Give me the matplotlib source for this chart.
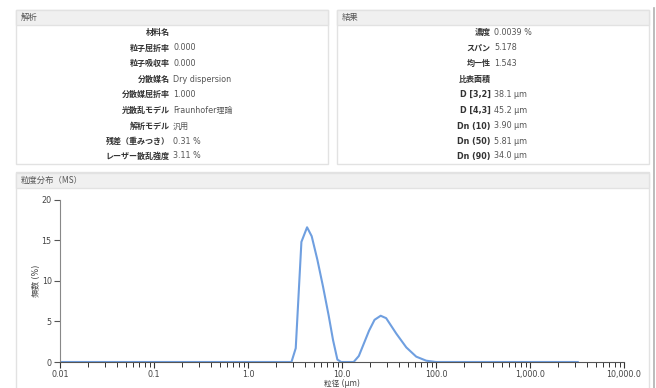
import matplotlib
matplotlib.use("Agg")
import matplotlib.pyplot as plt
from matplotlib.patches import Rectangle
from matplotlib.lines import Line2D
from matplotlib.ticker import FixedLocator, FixedFormatter, LogLocator, NullFormatter

plt.rcParams['font.family'] = ['DejaVu Sans', 'Noto Sans CJK JP']

W, H = 656, 388

# ---- data ----
analysis_labels = ["材料名", "粒子屈折率", "粒子吸収率", "分散媒名", "分散媒屈折率",
                   "光散乱モデル", "解析モデル", "残差（重みつき）", "レーザー散乱強度"]
analysis_values = ["", "0.000", "0.000", "Dry dispersion", "1.000",
                   "Fraunhofer理論", "汎用", "0.31 %", "3.11 %"]
result_labels = ["濃度", "スパン", "均一性", "比表面積", "D [3,2]", "D [4,3]",
                 "Dn (10)", "Dn (50)", "Dn (90)"]
result_values = ["0.0039 %", "5.178", "1.543", "", "38.1 μm", "45.2 μm",
                 "3.90 μm", "5.81 μm", "34.0 μm"]

size_um = [0.0105, 2.9, 3.22, 3.70, 4.25, 4.76, 5.47, 6.28, 7.22, 8.03, 8.93, 9.8,
           13.3, 15.1, 19.4, 22.2, 25.8, 29.5, 37.8, 48.3, 61.6, 78.8, 100.0, 3220.0]
freq_pct = [0.0, 0.0, 1.7, 14.8, 16.6, 15.5, 12.6, 9.3, 5.7, 2.7, 0.3, 0.0,
            0.0, 0.74, 3.86, 5.2, 5.7, 5.4, 3.5, 1.8, 0.66, 0.16, 0.0, 0.0]

x_ticks = [0.01, 0.1, 1.0, 10.0, 100.0, 1000.0, 10000.0]
x_tick_labels = ["0.01", "0.1", "1.0", "10.0", "100.0", "1,000.0", "10,000.0"]
y_ticks = [0, 5, 10, 15, 20]

fig = plt.figure(figsize=(W / 100, H / 100), dpi=100)

def fx(px):
    return px / W

def fy(py):
    return 1 - py / H

def panel(x0, y0, x1, y1, title):
    fig.add_artist(Rectangle((fx(x0), fy(y1)), fx(x1) - fx(x0), fy(y0) - fy(y1),
                             transform=fig.transFigure, facecolor='white',
                             edgecolor='#e2e2e2', linewidth=1.0, zorder=0))
    fig.add_artist(Rectangle((fx(x0), fy(y0 + 15.5)), fx(x1) - fx(x0), fy(y0) - fy(y0 + 15.5),
                             transform=fig.transFigure, facecolor='#f0f0f0',
                             edgecolor='#e2e2e2', linewidth=1.0, zorder=1))
    fig.text(fx(x0 + 5), fy(y0 + 8), title, fontsize=6.0, color='#555555',
             va='center', ha='left', family=['Noto Sans CJK JP', 'DejaVu Sans'])

panel(15.5, 9.5, 327.5, 164, "解析")
panel(336.5, 9.5, 648.5, 164, "結果")
panel(15.5, 172.5, 648.5, 400, "粒度分布（MS）")

fig.add_artist(Line2D([fx(653.5), fx(653.5)], [fy(8), fy(388)], transform=fig.transFigure,
                      color='#b0b0b0', linewidth=1.2))

row_y = [32.3, 48.0, 63.6, 79.2, 94.8, 110.4, 126.0, 141.3, 156.0]

def rows(labels, values, xr):
    for lab, val, yy in zip(labels, values, row_y):
        fig.text(fx(xr), fy(yy), lab, fontsize=5.8, fontweight='bold', color='#333333',
                 ha='right', va='center')
        if val:
            fig.text(fx(xr + 3.5), fy(yy), val, fontsize=5.8, color='#555555',
                     ha='left', va='center')

rows(analysis_labels, analysis_values, 169.5)
rows(result_labels, result_values, 490.5)

# ---- chart ----
ax = fig.add_axes([fx(60), fy(362), fx(624) - fx(60), fy(199.7) - fy(362)])
ax.set_facecolor('none')
ax.plot(size_um, freq_pct, color='#6f9fe0', linewidth=1.5, solid_joinstyle='round')
ax.set_xscale('log')
ax.set_xlim(0.01, 10000)
ax.set_ylim(0, 20)
for s in ['top', 'right']:
    ax.spines[s].set_visible(False)
ax.spines['left'].set_color('#888888')
ax.spines['bottom'].set_color('#555555')
ax.spines['left'].set_linewidth(0.8)
ax.spines['bottom'].set_linewidth(0.8)

ax.xaxis.set_major_locator(FixedLocator(x_ticks))
ax.xaxis.set_major_formatter(FixedFormatter(x_tick_labels))
ax.xaxis.set_minor_locator(LogLocator(base=10, subs=range(2, 10), numticks=20))
ax.xaxis.set_minor_formatter(NullFormatter())
ax.set_yticks(y_ticks)
ax.tick_params(axis='x', which='major', length=4.0, width=0.8, color='#333333',
               labelsize=5.8, labelcolor='#444444', pad=1.5)
ax.tick_params(axis='x', which='minor', length=3.5, width=0.7, color='#333333')
ax.tick_params(axis='y', length=4.5, width=0.8, color='#555555',
               labelsize=5.8, labelcolor='#444444', pad=1.5)

fig.text(fx(37), fy(281), "頻数 (%)", rotation=90, fontsize=5.8, color='#444444',
         ha='center', va='center')
fig.text(fx(342), fy(388), "粒径 (μm)", fontsize=5.5, color='#444444',
         ha='center', va='bottom')

fig.savefig("out.png", dpi=100)
